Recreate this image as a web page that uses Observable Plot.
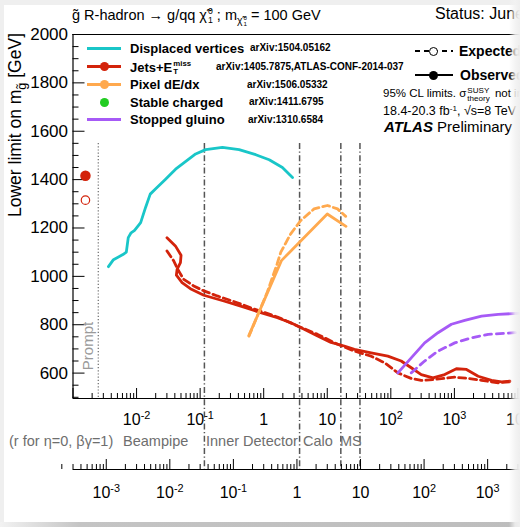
<!DOCTYPE html>
<html><head><meta charset="utf-8">
<script src="https://cdn.jsdelivr.net/npm/d3@7"></script>
<script src="https://cdn.jsdelivr.net/npm/@observablehq/plot@0.6"></script>
<style>
html,body{margin:0;padding:0;width:520px;height:527px;overflow:hidden;background:#efefef;font-family:"Liberation Sans",Arial,Helvetica,sans-serif;}
#page{position:absolute;left:0;top:0;width:520px;height:527px;overflow:hidden;}
#panel{position:absolute;left:4px;top:5px;width:530px;height:517px;background:#fff;}
#bshadow{position:absolute;left:0;top:522px;width:520px;height:5px;background:linear-gradient(to right,#f2f2f2 0px,#c4c4c4 80px,#bdbdbd 100%);}
#rfade{position:absolute;left:509px;top:0;width:11px;height:527px;background:linear-gradient(to right,rgba(242,242,242,0) 0%,rgba(242,242,242,0.85) 55%,rgba(238,238,238,1) 100%);}
#plot{position:absolute;left:0;top:0;}
.t{position:absolute;white-space:nowrap;line-height:1;color:#000;}
.b{font-weight:bold;}
.ss{display:inline-flex;flex-direction:column;font-size:0.6em;line-height:1.05;vertical-align:middle;margin-left:1px;}
.ss.big{font-size:0.7em;line-height:0.9;margin:0 2px 0 1px;}
.sub{font-size:.72em;vertical-align:-0.4em;}
.sup{font-size:.65em;vertical-align:0.55em;}
.sw{position:absolute;}
.gray{color:#6e6e6e;}
</style>
</head><body>
<div id="page">
<div id="panel"></div>
<div id="plot"></div>
<div id="overlay"></div>
<div id="bshadow"></div>
<div id="rfade"></div>
</div>
<script>
// ---------------- data ----------------
// lifetime tau [ns], lower limit on gluino mass [GeV]
const dvObserved = [[0.00361,1040],[0.00433,1069],[0.0061,1090],[0.0069,1100],[0.0074,1160],[0.0082,1180],[0.0093,1190],[0.0116,1222],[0.0139,1286],[0.0164,1340],[0.0200,1362],[0.0286,1402],[0.0411,1443],[0.085,1506],[0.122,1524],[0.224,1533],[0.41,1524],[0.75,1503],[1.22,1482],[1.97,1450],[2.84,1409]];
const jetsObserved = [[0.0301,1160],[0.0408,1126],[0.0501,1087],[0.0490,1057],[0.0434,1029],[0.0423,1005],[0.0520,974],[0.0703,949],[0.1143,922],[0.236,898],[0.489,873],[0.898,850],[1.644,829],[2.673,808],[4.335,781],[7.047,753],[11.43,727],[18.53,712],[26.7,698],[48.98,684],[89.7,670],[145.5,650],[209.4,622],[301.3,594],[460.3,580],[703,594],[1076,618],[1549,615],[2366,587],[3837,570],[5521,564],[7482,567]];
const jetsExpected = [[0.0301,1105],[0.0384,1064],[0.0460,1022],[0.0552,988],[0.0794,960],[0.1143,940],[0.186,919],[0.384,891],[0.624,870],[1.644,832],[3.404,795],[7.047,760],[14.55,719],[26.7,691],[48.98,670],[79.4,643],[129.1,601],[209.4,578],[301.3,570],[489.8,574],[1012,583],[1644,578],[2673,570],[4898,560],[7482,564]];
const pixelObserved = [[0.586,756],[1.9,1065],[10.0,1258],[19.7,1207]];
const pixelExpected = [[0.586,753],[1.14,935],[1.62,1050],[1.86,1100],[2.66,1176],[3.83,1231],[6.2,1279],[10.07,1293],[14.5,1279],[19.5,1248]];
const stoppedObserved = [[129.1,601],[209.4,663],[340.4,725],[552,767],[897,802],[1455,818],[2673,836],[4898,843],[10116,847],[20000,850]];
const stoppedExpected = [[209.4,601],[340.4,650],[552,691],[1012,725],[1858,746],[3404,760],[8974,767],[20000,770]];
const promptTau = 0.00157;          // position of the prompt points
const promptObserved = [[promptTau,1416]];
const promptExpected = [[promptTau,1315]];
const promptLine = [0.0025];        // ns
const detectorBoundaries = [0.035, 1.1, 4.9, 9.8]; // c*tau [m]

// axes
const xDomain = [1e-3, Math.pow(10,4.04)];
const yDomain = [495, 2000];
const yMajor = [600,800,1000,1200,1400,1600,1800,2000];
const topTickValues = [1e-3,1e-2,1e-1,1,10,100,1000,10000];
const topTickLabels = ["", "10^-2","10^-1","1","10","10^2","10^3","10^4"];
const ctTickValues = [1e-3,1e-2,1e-1,1,10,100,1000,10000];
const ctTickLabels = ["10^-3","10^-2","10^-1","1","10","10^2","10^3",""];
const C = 0.2998; // m per ns

const colors = {dv:"#19c6c8", jets:"#d3230b", pixel:"#ffa94e", stable:"#22cc22", stopped:"#a65af6"};

// ---------------- layout ----------------
const W = 520, H = 527, mL = 72.5, mR = 0, mT = 34, mB = 129;
const frameW = W - mL - mR, frameH = H - mT - mB;

const yMinor = [];
for (let v = 500; v <= 2000; v += 50) if (!yMajor.includes(v)) yMinor.push(v);
const minorDec = (lo, hi) => { const a = []; for (let e = lo; e <= hi; e++) for (let k = 2; k <= 9; k++) a.push(k * Math.pow(10, e)); return a; };
const topMinor = minorDec(-3, 4);
const ctMinor = minorDec(-4, 4);
const topLabels = topTickValues.map((v,i)=>({v, label: topTickLabels[i]})).filter(d=>d.label);
const ctLabels = ctTickValues.map((v,i)=>({v, label: ctTickLabels[i]})).filter(d=>d.label);

const lw = 2.8;
const plot = Plot.plot({
  width: W, height: H,
  marginLeft: mL, marginRight: mR, marginTop: mT, marginBottom: mB,
  x: {type: "log", domain: xDomain, axis: null},
  y: {domain: yDomain, axis: null},
  style: {background: "transparent", fontFamily: "Liberation Sans, Arial, Helvetica, sans-serif", overflow: "visible"},
  marks: [
    // detector region lines
    Plot.ruleX(promptLine, {stroke: "#777", strokeWidth: 1.3, strokeDasharray: "1.2,2", insetTop: 109}),
    Plot.ruleX(detectorBoundaries, {x: d => d / C, stroke: "#555", strokeWidth: 1.5, strokeDasharray: "6,2.5,1.2,2.5", insetTop: 109, insetBottom: -71}),
    // frame
    Plot.ruleY([yDomain[0], yDomain[1]], {stroke: "#000", strokeWidth: 1.2}),
    Plot.ruleX([xDomain[0]], {stroke: "#000", strokeWidth: 1.2}),
    // y ticks
    Plot.tickY(yMajor, {stroke: "#000", insetRight: frameW - 12}),
    Plot.tickY(yMinor, {stroke: "#000", insetRight: frameW - 6}),
    Plot.text(yMajor, {y: d => d, text: d => String(d), frameAnchor: "left", textAnchor: "end", lineAnchor: "middle", dx: -5, fontSize: 17}),
    // lifetime axis (bottom of frame)
    Plot.tickX(topTickValues, {stroke: "#000", insetTop: frameH - 10}),
    Plot.tickX(topMinor, {stroke: "#000", insetTop: frameH - 5}),
    Plot.text(topLabels, {x: "v", text: "label", frameAnchor: "bottom", lineAnchor: "middle", dy: 21, fontSize: 16}),
    // c*tau axis
    Plot.ruleY([yDomain[0]], {dy: 71, stroke: "#000", strokeWidth: 1.2}),
    Plot.tickX(ctTickValues, {x: d => d / C, stroke: "#000", insetTop: frameH - 10, dy: 71}),
    Plot.tickX(ctMinor, {x: d => d / C, stroke: "#000", insetTop: frameH - 5, dy: 71}),
    Plot.text(ctLabels, {x: d => d.v / C, text: "label", frameAnchor: "bottom", lineAnchor: "middle", dy: 94, fontSize: 16}),
    // data
    Plot.line(dvObserved, {stroke: colors.dv, strokeWidth: lw}),
    Plot.line(jetsExpected, {stroke: colors.jets, strokeWidth: lw, strokeDasharray: "7,4"}),
    Plot.line(jetsObserved, {stroke: colors.jets, strokeWidth: lw}),
    Plot.line(pixelExpected, {stroke: colors.pixel, strokeWidth: lw, strokeDasharray: "7,4"}),
    Plot.line(pixelObserved, {stroke: colors.pixel, strokeWidth: lw}),
    Plot.line(stoppedExpected, {stroke: colors.stopped, strokeWidth: lw, strokeDasharray: "7,5"}),
    Plot.line(stoppedObserved, {stroke: colors.stopped, strokeWidth: lw}),
    Plot.dot(promptObserved, {r: 4.5, fill: colors.jets, stroke: colors.jets}),
    Plot.dot(promptExpected, {r: 4.2, fill: "#fff", stroke: colors.jets, strokeWidth: 1.2})
  ]
});
document.getElementById("plot").appendChild(plot);

// superscripts in axis labels ("10^-2" -> 10 with raised -2)
const NS = "http://www.w3.org/2000/svg";
plot.querySelectorAll("text").forEach(el => {
  const m = el.textContent.match(/^(.*)\^(.*)$/);
  if (!m) return;
  el.textContent = "";
  const a = document.createElementNS(NS, "tspan"); a.textContent = m[1];
  const b = document.createElementNS(NS, "tspan"); b.textContent = m[2];
  b.setAttribute("dy", "-0.5em"); b.setAttribute("font-size", "0.68em");
  el.append(a, b);
});

// ---------------- text overlay ----------------
const ov = document.getElementById("overlay");
function T(html, x, yc, fs, extra = "", cls = "") {
  const d = document.createElement("div");
  d.className = "t " + cls;
  d.style.left = x + "px";
  d.style.top = (yc - 0.49 * fs) + "px";
  d.style.fontSize = fs + "px";
  if (extra) d.style.cssText += extra;
  d.innerHTML = html;
  ov.appendChild(d);
  return d;
}
function box(x, y, w, h, css) {
  const d = document.createElement("div");
  d.className = "sw";
  d.style.cssText += `left:${x}px;top:${y}px;width:${w}px;height:${h}px;` + css;
  ov.appendChild(d);
}
const chi = 'χ̃<span class="ss"><span>0</span><span>1</span></span>';
T(`g̃ R-hadron → g/qq ${chi} ; m<span class="sub">${chi}</span> = 100 GeV`, 72, 14, 14.5);
T("Status: June 2015", 435, 14, 16);

// y title
const yt = document.createElement("div");
yt.className = "t";
yt.style.cssText += "left:7px;top:333px;width:300px;text-align:right;font-size:17.5px;transform-origin:0 0;transform:rotate(-90deg);";
yt.innerHTML = 'Lower limit on m<span class="sub">g̃</span> [GeV]';
ov.appendChild(yt);

// Prompt label
const pr = document.createElement("div");
pr.className = "t";
pr.style.cssText += "left:87px;top:346px;font-size:15px;color:#9a9a9a;transform:translate(-50%,-50%) rotate(-90deg);";
pr.textContent = "Prompt";
ov.appendChild(pr);

// detector region labels
const gy = 441, gfs = 14.5;
T("(r for η=0, βγ=1)", 9, gy, gfs, "", "gray");
T("Beampipe", 123, gy, gfs, "", "gray");
T("Inner Detector", 206, gy, gfs, "", "gray");
T("Calo", 303, gy, gfs, "", "gray");
T("MS", 340, gy, gfs, "", "gray");

// left legend
const rows = [
  {y: 48, c: colors.dv, name: "Displaced vertices", ref: "arXiv:1504.05162", rx: 250, line: true, dot: false},
  {y: 66.5, c: colors.jets, name: 'Jets+E<span class="ss"><span>miss</span><span>T</span></span>', ref: "arXiv:1405.7875,ATLAS-CONF-2014-037", rx: 216, line: true, dot: true},
  {y: 84.5, c: colors.pixel, name: "Pixel dE/dx", ref: "arXiv:1506.05332", rx: 247, line: true, dot: true},
  {y: 102, c: colors.stable, name: "Stable charged", ref: "arXiv:1411.6795", rx: 249, line: false, dot: true},
  {y: 119.5, c: colors.stopped, name: "Stopped gluino", ref: "arXiv:1310.6584", rx: 248, line: true, dot: false}
];
rows.forEach(r => {
  if (r.line) box(87, r.y - 1.5, 34, 3, `background:${r.c};`);
  if (r.dot) box(99.5, r.y - 4.5, 9, 9, `background:${r.c};border-radius:50%;`);
  T(r.name, 130, r.y, 13, "", "b");
  T(r.ref, r.rx, r.y, 10, "", "b");
});

// right legend
box(415, 50, 38, 2, "background:repeating-linear-gradient(to right,#000 0 5px,transparent 5px 9px);");
box(428.5, 46.5, 9, 9, "background:#fff;border:1.4px solid #000;border-radius:50%;box-sizing:border-box;");
T("Expected", 459, 51, 14, "", "b");
box(415, 73.5, 38, 2.5, "background:#000;");
box(428.5, 70.5, 9, 9, "background:#000;border-radius:50%;");
T("Observed", 460, 74.5, 14, "", "b");
T('95% CL limits. σ<span class="ss big"><span>SUSY</span><span>theory</span></span> not included', 383, 93, 11.5);
T('18.4-20.3 fb<span class="sup">-1</span>, √s=8 TeV', 383, 111.5, 12.5);
T('<b><i>ATLAS</i></b> Preliminary', 384, 126, 15);
</script>
</body></html>
